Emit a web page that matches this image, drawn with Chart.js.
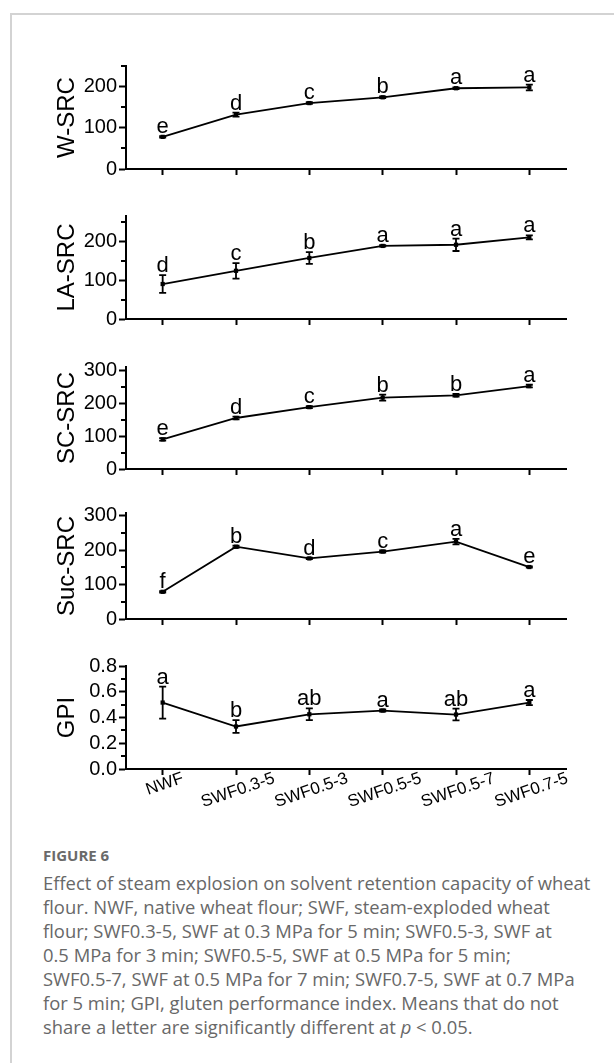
<!DOCTYPE html>
<html>
<head>
<meta charset="utf-8">
<script src="https://cdn.jsdelivr.net/npm/chart.js@4.4.1/dist/chart.umd.min.js"></script>
<style>
  body { margin: 0; background: #fff; width: 614px; height: 1063px; overflow: hidden; position: relative; }
  .card { position: absolute; left: 10px; top: 13px; width: 700px; height: 1100px; border-left: 2px solid #d3d3d3; border-top: 2px solid #d3d3d3; }
  canvas { position: absolute; left: 0; }
  .caption { position: absolute; left: 43px; top: 845px; color: #686868; font-family: "Open Sans", sans-serif; font-size: 18.4px; line-height: 24px; white-space: nowrap; }
  .caption .fig { font-weight: 700; font-size: 15px; line-height: 20px; color: #6a6a6a; margin-bottom: 6px; }
</style>
</head>
<body>
<div class="card"></div>
<canvas id="c1"></canvas>
<canvas id="c2"></canvas>
<canvas id="c3"></canvas>
<canvas id="c4"></canvas>
<canvas id="c5"></canvas>
<div class="caption">
  <div class="fig">FIGURE 6</div>
  Effect of steam explosion on solvent retention capacity of wheat<br>
  flour. NWF, native wheat flour; SWF, steam-exploded wheat<br>
  flour; SWF0.3-5, SWF at 0.3 MPa for 5 min; SWF0.5-3, SWF at<br>
  0.5 MPa for 3 min; SWF0.5-5, SWF at 0.5 MPa for 5 min;<br>
  SWF0.5-7, SWF at 0.5 MPa for 7 min; SWF0.7-5, SWF at 0.7 MPa<br>
  for 5 min; GPI, gluten performance index. Means that do not<br>
  share a letter are significantly different at <i>p</i> &lt; 0.05.
</div>
<script>
const categories = ['NWF', 'SWF0.3-5', 'SWF0.5-3', 'SWF0.5-5', 'SWF0.5-7', 'SWF0.7-5'];

const wSrc = [78, 132, 160, 174, 196, 198];
const wSrcErr = [2, 5, 2, 2, 2, 7];
const wSrcLetters = ['e', 'd', 'c', 'b', 'a', 'a'];

const laSrc = [90, 124, 157, 188, 191, 210];
const laSrcErr = [23, 20, 15, 2, 16, 5];
const laSrcLetters = ['d', 'c', 'b', 'a', 'a', 'a'];

const scSrc = [90, 155, 188, 217, 224, 252];
const scSrcErr = [4, 4, 3, 9, 4, 4];
const scSrcLetters = ['e', 'd', 'c', 'b', 'b', 'a'];

const sucSrc = [79, 210, 176, 196, 225, 151];
const sucSrcErr = [2, 3, 2, 3, 8, 2];
const sucSrcLetters = ['f', 'b', 'd', 'c', 'a', 'e'];

const gpi = [0.516, 0.33, 0.425, 0.454, 0.423, 0.516];
const gpiErr = [0.124, 0.05, 0.046, 0.008, 0.046, 0.02];
const gpiLetters = ['a', 'b', 'ab', 'a', 'ab', 'a'];

const srcTicks = [0, 100, 200];
const srcTicks300 = [0, 100, 200, 300];
const srcMinor = [50, 150, 250];
const gpiTicks = [0, 0.2, 0.4, 0.6, 0.8];
const gpiMinor = [0.1, 0.3, 0.5, 0.7];

const FONT = 'Arial, "Liberation Sans", sans-serif';
const PAD_TOP = 18;

// layout of each panel (plot top / x axis position in page px)
const panels = [
  { id: 'c1', title: 'W-SRC', values: wSrc, errors: wSrcErr, letters: wSrcLetters, max: 250, ticks: srcTicks, minor: srcMinor, top: 66, bottom: 169, xh: 14 },
  { id: 'c2', title: 'LA-SRC', values: laSrc, errors: laSrcErr, letters: laSrcLetters, max: 265, ticks: srcTicks, minor: srcMinor, top: 216, bottom: 319, xh: 14 },
  { id: 'c3', title: 'SC-SRC', values: scSrc, errors: scSrcErr, letters: scSrcLetters, max: 310, ticks: srcTicks300, minor: srcMinor, top: 367, bottom: 469, xh: 14 },
  { id: 'c4', title: 'Suc-SRC', values: sucSrc, errors: sucSrcErr, letters: sucSrcLetters, max: 308, ticks: srcTicks300, minor: srcMinor, top: 513, bottom: 619, xh: 14 },
  { id: 'c5', title: 'GPI', values: gpi, errors: gpiErr, letters: gpiLetters, max: 0.8, ticks: gpiTicks, minor: gpiMinor, top: 666, bottom: 769, xh: 50, xLabels: true }
];

// error bars, significance letters, minor ticks, rotated x labels
const extrasPlugin = {
  id: 'extras',
  afterDatasetsDraw: (chart) => {
    const p = chart.options.plugins.extras;
    const xs = chart.scales.x;
    const ys = chart.scales.y;
    const ctx = chart.ctx;
    ctx.save();
    ctx.strokeStyle = '#000';
    ctx.fillStyle = '#000';
    ctx.lineWidth = 1.8;
    p.values.forEach((v, i) => {
      const x = xs.getPixelForValue(i);
      const yHi = ys.getPixelForValue(v + p.errors[i]);
      const yLo = ys.getPixelForValue(v - p.errors[i]);
      ctx.beginPath();
      ctx.moveTo(x, yHi); ctx.lineTo(x, yLo);
      ctx.moveTo(x - 3.5, yHi); ctx.lineTo(x + 3.5, yHi);
      ctx.moveTo(x - 3.5, yLo); ctx.lineTo(x + 3.5, yLo);
      ctx.stroke();
      ctx.font = '22px ' + FONT;
      ctx.textAlign = 'center';
      ctx.textBaseline = 'alphabetic';
      ctx.fillText(p.letters[i], x, yHi - 3);
    });
    ctx.restore();
  },
  afterDraw: (chart) => {
    const p = chart.options.plugins.extras;
    const xs = chart.scales.x;
    const ys = chart.scales.y;
    const ctx = chart.ctx;
    const left = chart.chartArea.left;
    ctx.save();
    ctx.strokeStyle = '#000';
    ctx.lineWidth = 2;
    p.minor.forEach((v) => {
      const y = Math.round(ys.getPixelForValue(v));
      ctx.beginPath();
      ctx.moveTo(left - 5, y); ctx.lineTo(left, y);
      ctx.stroke();
    });
    if (p.xLabels) {
      ctx.fillStyle = '#000';
      ctx.font = '17px ' + FONT;
      ctx.textAlign = 'center';
      ctx.textBaseline = 'middle';
      const ang = 19 * Math.PI / 180;
      const axisY = chart.chartArea.bottom;
      categories.forEach((c, i) => {
        const x = xs.getPixelForValue(i);
        const w = ctx.measureText(c).width;
        ctx.save();
        ctx.translate(x + 2, axisY + 9 + w / 2 * Math.sin(ang));
        ctx.rotate(-ang);
        ctx.fillText(c, 0, 0);
        ctx.restore();
      });
    }
    ctx.restore();
  }
};

const makePanel = (p) => {
  const canvas = document.getElementById(p.id);
  const h = PAD_TOP + (p.bottom - p.top) + p.xh;
  canvas.width = 614;
  canvas.height = h;
  canvas.style.top = (p.top - PAD_TOP) + 'px';

  return new Chart(canvas.getContext('2d'), {
    type: 'line',
    data: {
      labels: categories,
      datasets: [{
        data: p.values,
        borderColor: '#000',
        borderWidth: 1.8,
        pointStyle: 'rect',
        pointRadius: 3,
        pointBackgroundColor: '#000',
        pointBorderColor: '#000',
        pointBorderWidth: 0,
        tension: 0,
        clip: false
      }]
    },
    options: {
      responsive: false,
      animation: false,
      devicePixelRatio: 1,
      layout: { autoPadding: false, padding: { top: PAD_TOP, left: 0, right: 48, bottom: 0 } },
      plugins: {
        legend: { display: false },
        tooltip: { enabled: false },
        extras: { values: p.values, errors: p.errors, letters: p.letters, minor: p.minor, xLabels: !!p.xLabels }
      },
      scales: {
        x: {
          type: 'category',
          offset: true,
          grid: { display: true, drawOnChartArea: false, drawTicks: true, tickLength: 6, tickColor: '#000', tickWidth: 2, color: '#000', offset: false },
          border: { display: true, color: '#000', width: 2 },
          ticks: { display: false },
          afterFit: (s) => { s.height = p.xh; }
        },
        y: {
          min: 0,
          max: p.max,
          afterBuildTicks: (s) => { s.ticks = p.ticks.map((v) => ({ value: v })); },
          grid: { display: true, drawOnChartArea: false, drawTicks: true, tickLength: 7, tickColor: '#000', tickWidth: 2, color: '#000' },
          border: { display: true, color: '#000', width: 2 },
          ticks: {
            color: '#000',
            padding: 2,
            autoSkip: false,
            font: { family: FONT, size: 20 },
            callback: (v) => (p.max < 1 ? Number(v).toFixed(1) : v)
          },
          title: {
            display: true,
            text: p.title,
            color: '#000',
            font: { family: FONT, size: 24 },
            padding: { top: 53, bottom: 0 }
          },
          afterFit: (s) => { s.width = 126; }
        }
      }
    },
    plugins: [extrasPlugin]
  });
};

panels.forEach(makePanel);
</script>
</body>
</html>
